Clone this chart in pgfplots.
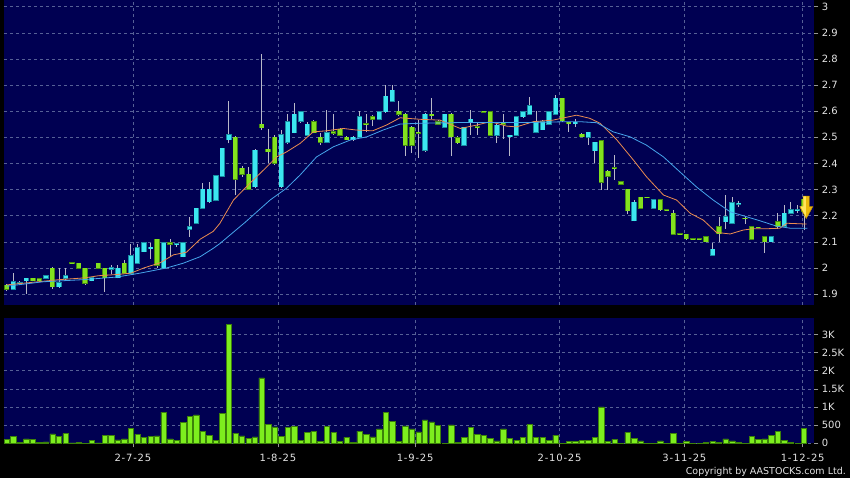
\documentclass[border=0pt]{standalone}
\usepackage{fontspec}
\setmainfont{DejaVu Sans}
\newfontfamily\datefont[LetterSpace=8]{DejaVu Sans}
\usepackage{pgfplots}
\usepackage{pgfplotstable}
\pgfplotsset{compat=1.18}

\definecolor{navybg}{RGB}{0,0,82}
\definecolor{gridc}{RGB}{86,96,150}
\definecolor{labelc}{RGB}{228,228,228}
\definecolor{tickc}{RGB}{150,150,150}
\definecolor{wickc}{RGB}{185,185,200}
\definecolor{upfill}{RGB}{60,230,240}
\definecolor{upedge}{RGB}{24,140,160}
\definecolor{dnfill}{RGB}{130,225,30}
\definecolor{dnedge}{RGB}{70,140,16}
\definecolor{volfill}{RGB}{125,238,30}
\definecolor{voledge}{RGB}{60,130,10}
\definecolor{maorange}{RGB}{235,140,80}
\definecolor{mablue}{RGB}{70,165,235}
\definecolor{arrowy}{RGB}{236,184,10}
\definecolor{arrowl}{RGB}{255,230,90}
\definecolor{arrowd}{RGB}{190,140,0}

% up candles (close > open): B = open, T = close
\pgfplotstableread{
x L H B T
1 1.915 1.979 1.918 1.947
2 1.935 1.950 1.940 1.944
3 1.900 1.962 1.950 1.960
6 1.958 1.972 1.960 1.969
8 1.925 1.998 1.928 1.943
9 1.950 1.998 1.960 1.969
13 1.948 1.965 1.950 1.962
16 1.975 2.010 1.995 2.000
17 1.960 2.010 1.962 1.998
19 1.975 2.090 1.979 2.046
20 2.015 2.090 2.018 2.077
21 2.060 2.100 2.062 2.097
22 2.035 2.097 2.074 2.079
24 1.995 2.100 1.998 2.097
26 2.080 2.095 2.088 2.092
27 2.040 2.100 2.043 2.097
28 2.119 2.196 2.148 2.158
29 2.168 2.230 2.171 2.228
30 2.225 2.324 2.228 2.301
31 2.250 2.330 2.253 2.301
32 2.255 2.355 2.260 2.352
33 2.350 2.460 2.352 2.458
34 2.477 2.639 2.490 2.509
38 2.305 2.455 2.311 2.451
42 2.305 2.530 2.311 2.509
43 2.475 2.590 2.481 2.560
44 2.515 2.630 2.518 2.588
45 2.555 2.600 2.562 2.598
46 2.505 2.560 2.509 2.550
49 2.478 2.604 2.481 2.518
53 2.486 2.505 2.490 2.500
54 2.498 2.600 2.500 2.579
57 2.565 2.600 2.569 2.598
58 2.595 2.700 2.598 2.658
59 2.636 2.700 2.639 2.681
64 2.445 2.592 2.451 2.588
67 2.535 2.590 2.538 2.588
70 2.468 2.540 2.470 2.538
71 2.510 2.605 2.560 2.570
75 2.480 2.550 2.509 2.547
77 2.430 2.510 2.503 2.508
78 2.505 2.582 2.509 2.579
79 2.576 2.600 2.579 2.598
80 2.585 2.654 2.588 2.620
81 2.515 2.600 2.519 2.560
82 2.528 2.565 2.530 2.560
83 2.548 2.600 2.551 2.598
84 2.585 2.662 2.588 2.650
87 2.540 2.570 2.553 2.557
89 2.470 2.521 2.500 2.519
90 2.400 2.483 2.449 2.481
96 2.178 2.260 2.180 2.252
99 2.226 2.262 2.228 2.260
108 2.047 2.096 2.049 2.071
110 2.150 2.279 2.177 2.196
111 2.168 2.270 2.171 2.250
112 2.235 2.255 2.243 2.247
117 2.098 2.122 2.100 2.120
119 2.157 2.241 2.159 2.209
120 2.205 2.253 2.209 2.222
121 2.210 2.240 2.220 2.222
}\upc

% down candles (close < open): B = close, T = open
\pgfplotstableread{
x L H B T
0 1.912 1.940 1.918 1.934
4 1.948 1.963 1.950 1.960
5 1.948 1.962 1.950 1.958
7 1.920 2.003 1.928 1.998
10 2.015 2.022 2.016 2.020
11 1.995 2.020 1.998 2.018
12 1.935 2.000 1.941 1.998
14 1.995 2.020 1.998 2.018
15 1.909 2.000 1.963 1.998
18 1.975 2.030 1.979 2.018
23 1.998 2.112 2.011 2.110
25 2.040 2.110 2.090 2.097
35 2.279 2.505 2.339 2.500
36 2.350 2.390 2.359 2.381
37 2.298 2.385 2.301 2.358
39 2.528 2.821 2.537 2.550
40 2.400 2.533 2.445 2.455
41 2.395 2.510 2.400 2.500
47 2.515 2.568 2.518 2.560
48 2.470 2.515 2.482 2.500
50 2.510 2.590 2.516 2.521
51 2.505 2.535 2.509 2.531
52 2.488 2.505 2.490 2.500
55 2.520 2.590 2.548 2.552
56 2.545 2.585 2.569 2.579
60 2.580 2.639 2.588 2.600
61 2.430 2.592 2.470 2.588
62 2.440 2.545 2.470 2.539
63 2.420 2.566 2.515 2.520
65 2.570 2.650 2.582 2.588
66 2.548 2.565 2.551 2.560
68 2.430 2.592 2.502 2.588
69 2.475 2.505 2.480 2.498
72 2.510 2.555 2.536 2.540
73 2.594 2.602 2.596 2.600
74 2.505 2.600 2.509 2.598
76 2.495 2.590 2.550 2.555
85 2.560 2.652 2.563 2.650
86 2.520 2.560 2.553 2.557
88 2.500 2.515 2.502 2.511
91 2.300 2.490 2.328 2.487
92 2.300 2.375 2.352 2.371
93 2.337 2.432 2.379 2.383
94 2.319 2.331 2.321 2.329
95 2.205 2.303 2.219 2.301
97 2.225 2.272 2.228 2.270
98 2.268 2.272 2.269 2.271
100 2.219 2.262 2.222 2.260
101 2.218 2.223 2.220 2.222
102 2.127 2.222 2.129 2.209
103 2.127 2.132 2.129 2.131
104 2.108 2.131 2.111 2.129
105 2.109 2.113 2.110 2.112
106 2.109 2.113 2.110 2.112
107 2.098 2.121 2.100 2.119
109 2.100 2.196 2.130 2.158
113 2.170 2.195 2.188 2.190
114 2.108 2.160 2.110 2.158
115 2.152 2.158 2.154 2.156
116 2.058 2.122 2.100 2.120
118 2.150 2.210 2.158 2.177
122 2.145 2.265 2.215 2.262
}\dnc

% down arrow marker, and its lighter left half
\pgfdeclareplotmark{darrow}{%
  \pgfpathmoveto{\pgfqpoint{-3.2pt}{11.5pt}}%
  \pgfpathlineto{\pgfqpoint{3.2pt}{11.5pt}}%
  \pgfpathlineto{\pgfqpoint{3.2pt}{1pt}}%
  \pgfpathlineto{\pgfqpoint{6.6pt}{1pt}}%
  \pgfpathlineto{\pgfqpoint{0pt}{-11pt}}%
  \pgfpathlineto{\pgfqpoint{-6.6pt}{1pt}}%
  \pgfpathlineto{\pgfqpoint{-3.2pt}{1pt}}%
  \pgfpathclose
  \pgfusepathqfillstroke}
\pgfdeclareplotmark{darrowl}{%
  \pgfpathmoveto{\pgfqpoint{-2.8pt}{11.1pt}}%
  \pgfpathlineto{\pgfqpoint{-0.3pt}{11.1pt}}%
  \pgfpathlineto{\pgfqpoint{-0.3pt}{-9.5pt}}%
  \pgfpathlineto{\pgfqpoint{-5.9pt}{1.3pt}}%
  \pgfpathlineto{\pgfqpoint{-2.8pt}{1.3pt}}%
  \pgfpathclose
  \pgfusepathqfill}

% wicks, body edge, body fill
\newcommand\candles[3]{%
  \addplot[draw=none, mark=none, forget plot,
    error bars/.cd, y dir=plus, y explicit, error mark=none,
    error bar style={draw=wickc, line width=0.9pt}]
    table[x=x, y=L, y error expr=\thisrow{H}-\thisrow{L}] {#1};
  \addplot[draw=none, mark=none, forget plot,
    error bars/.cd, y dir=plus, y explicit, error mark=none,
    error bar style={draw=#2, line width=5.4pt}]
    table[x=x, y expr=\thisrow{B}-0.002, y error expr=\thisrow{T}-\thisrow{B}+0.004] {#1};
  \addplot[draw=none, mark=none, forget plot,
    error bars/.cd, y dir=plus, y explicit, error mark=none,
    error bar style={draw=#3, line width=4pt}]
    table[x=x, y=B, y error expr=\thisrow{T}-\thisrow{B}] {#1};
}

\pgfplotsset{
  panel/.style={
    scale only axis,
    axis background/.style={fill=navybg},
    axis line style={draw=none},
    xmin=-0.42, xmax=123.58,
    xmajorgrids, ymajorgrids,
    grid style={gridc, dash pattern=on 3pt off 3pt, line width=0.6pt},
    tick align=outside, major tick length=4pt,
    tick style={tickc, line width=0.6pt},
    ytick pos=right, yticklabel pos=right,
    tick label style={font=\fontsize{10}{12}\selectfont, text=labelc},
    xtick={19.3,41.5,62.5,84.6,103.7,121.8},
  },
}

\begin{document}
\begin{tikzpicture}[x=1pt, y=1pt]
\path[use as bounding box] (0,0) rectangle (850,478);
\fill[black] (0,0) rectangle (850,478);

% price panel
\begin{axis}[panel,
  at={(4pt,173pt)}, anchor=south west,
  width=810.3pt, height=305pt,
  ymin=1.858, ymax=3.026,
  ytick={1.9,2,2.1,2.2,2.3,2.4,2.5,2.6,2.7,2.8,2.9,3},
  yticklabels={1.9,2,2.1,2.2,2.3,2.4,2.5,2.6,2.7,2.8,2.9,3},
  xticklabels={}, xtick style={draw=none},
]
\candles{\upc}{upedge}{upfill}
\candles{\dnc}{dnedge}{dnfill}
% 10-day average
\addplot[maorange, line width=0.8pt, line join=round] coordinates {
 (0,1.935) (4,1.945) (8,1.955) (12,1.962) (14,1.970) (17,1.975) (19,1.980)
 (21,2.000) (23.5,2.020) (25.5,2.050) (27.5,2.060) (29.6,2.110) (31.6,2.140)
 (32.6,2.170) (34.7,2.260) (37.2,2.324) (39.8,2.387) (41.3,2.425) (42.8,2.444)
 (44.9,2.477) (46.9,2.521) (48.9,2.525) (51.5,2.534) (53.5,2.528) (56,2.525)
 (58.1,2.547) (60.2,2.575) (63.3,2.569) (66.3,2.566) (69.4,2.534) (71.9,2.547)
 (74,2.560) (76.5,2.543) (78,2.540) (80.6,2.560) (83.6,2.566) (87.2,2.585)
 (89.2,2.573) (90.8,2.554) (93.3,2.492) (95.9,2.413) (97.9,2.349) (100.5,2.279)
 (102.5,2.260) (104.6,2.209) (106.6,2.183) (108.6,2.136) (110.7,2.130)
 (112.7,2.145) (114.2,2.150) (116.3,2.150) (118.3,2.152) (119.4,2.171) (122.4,2.168)
};
% 20-day average
\addplot[mablue, line width=0.8pt, line join=round] coordinates {
 (0,1.930) (5.6,1.947) (11.7,1.955) (16.8,1.965) (20.4,1.980) (24.5,2.000)
 (27,2.018) (29.6,2.043) (31.6,2.075) (32.6,2.093) (36.5,2.175) (40.3,2.260)
 (42.8,2.305) (44.9,2.356) (47.4,2.425) (50,2.464) (52.6,2.490) (55.1,2.502)
 (57.6,2.528) (60.2,2.551) (63.3,2.554) (70,2.557) (75,2.557) (80.6,2.557)
 (85.7,2.560) (87.7,2.560) (90.3,2.556) (92.8,2.521) (95.4,2.502) (97.9,2.470)
 (100.5,2.425) (103,2.368) (105.6,2.309) (108.1,2.260) (110.7,2.215)
 (113.2,2.196) (115.2,2.181) (117.8,2.160) (119.9,2.152) (122.5,2.152)
};
\addplot[only marks, mark=darrow, mark options={fill=arrowy, draw=arrowd, line width=0.4pt}]
  coordinates {(122.35,2.231)};
\addplot[only marks, mark=darrowl, mark options={fill=arrowl, draw=none}]
  coordinates {(122.35,2.231)};
\end{axis}

% volume panel
\begin{axis}[panel,
  at={(4pt,34.7pt)}, anchor=south west,
  width=810.3pt, height=125pt,
  ymin=0, ymax=3445,
  ytick={0,500,1000,1500,2000,2500,3000},
  yticklabels={0,500,1K,1.5K,2K,2.5K,3K},
  xtick pos=left,
  xticklabels={2-7-25,1-8-25,1-9-25,2-10-25,3-11-25,1-12-25},
  xticklabel style={font=\datefont\fontsize{10}{12}\selectfont, yshift=-3pt},
]
\addplot[ybar, bar width=0.82, bar shift=0pt, fill=volfill, draw=voledge, line width=0.5pt] coordinates {
 (0,110) (1,195) (2,30) (3,120) (4,110) (5,30) (6,40) (7,260) (8,200) (9,270)
 (10,10) (11,30) (12,5) (13,75) (14,10) (15,215) (16,225) (17,95) (18,120) (19,410)
 (20,245) (21,160) (22,185) (23,205) (24,860) (25,120) (26,75) (27,575) (28,740) (29,780)
 (30,325) (31,220) (32,85) (33,835) (34,3270) (35,280) (36,205) (37,140) (38,175) (39,1805)
 (40,530) (41,450) (42,200) (43,445) (44,475) (45,75) (46,305) (47,330) (48,55) (49,475)
 (50,292) (51,45) (52,162) (53,20) (54,335) (55,240) (56,180) (57,395) (58,850) (59,600)
 (60,55) (61,480) (62,400) (63,315) (64,645) (65,588) (66,495) (67,5) (68,505) (69,30)
 (70,170) (71,440) (72,255) (73,210) (74,145) (75,70) (76,395) (77,135) (78,80) (79,155)
 (80,520) (81,162) (82,160) (83,88) (84,225) (85,5) (86,60) (87,60) (88,88) (89,85)
 (90,168) (91,1005) (92,60) (93,110) (94,5) (95,300) (96,145) (97,70) (98,5) (99,5)
 (100,70) (101,5) (102,275) (103,5) (104,45) (105,5) (106,5) (107,20) (108,55) (109,35)
 (110,120) (111,65) (112,20) (113,5) (114,185) (115,100) (116,120) (117,215) (118,335) (119,85)
 (120,30) (121,5) (122,415)
};
\end{axis}

\node[anchor=east, text=labelc, font=\fontsize{9.5}{11}\selectfont, inner sep=0pt]
  at (846,6.5) {Copyright by AASTOCKS.com Ltd.};
\end{tikzpicture}
\end{document}
